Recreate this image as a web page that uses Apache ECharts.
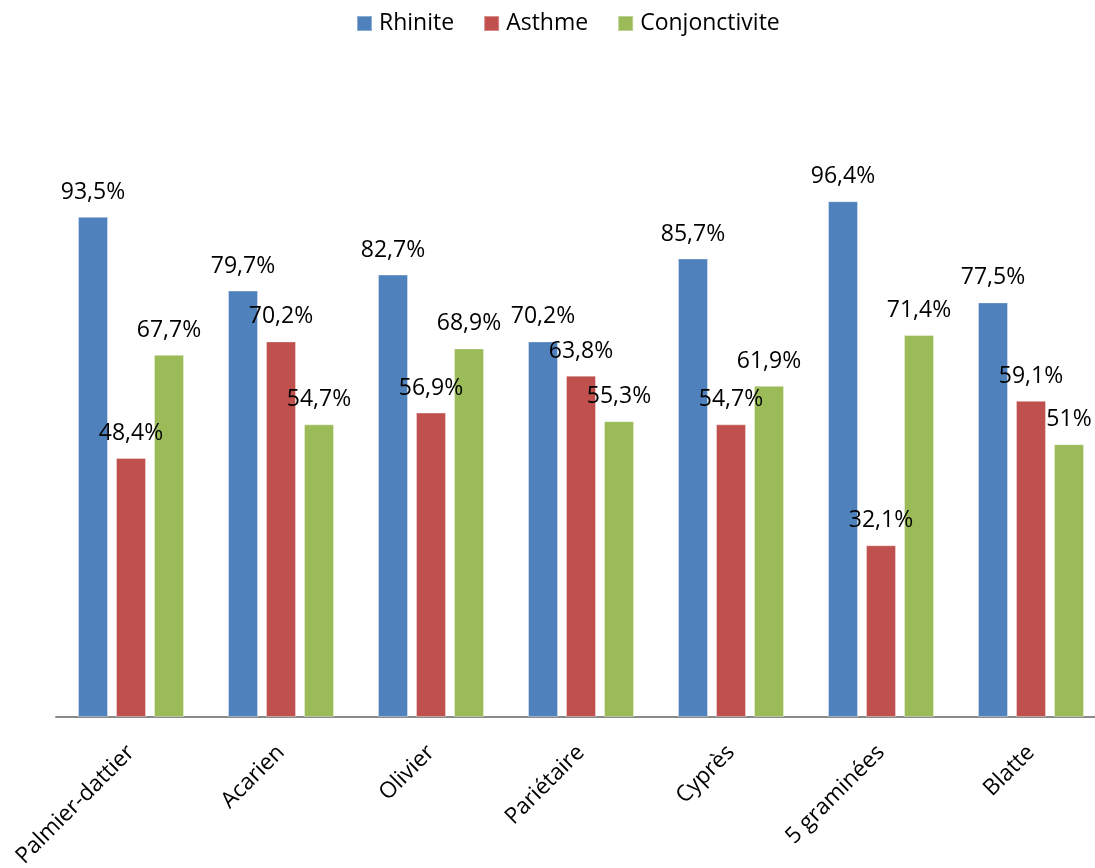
<!DOCTYPE html>
<html>
<head>
<meta charset="utf-8">
<title>Rhinite, Asthme, Conjonctivite par allergène</title>
<script src="https://cdn.jsdelivr.net/npm/echarts@6/dist/echarts.min.js"></script>
<style>
  html, body { margin: 0; padding: 0; background: #ffffff; }
  #chart { width: 1095px; height: 868px; }
</style>
</head>
<body>
<div id="chart"></div>
<script>
// Allergènes (catégories de l'axe horizontal)
const categories = ['Palmier-dattier', 'Acarien', 'Olivier', 'Pariétaire', 'Cyprès', '5 graminées', 'Blatte'];

// Pourcentages par manifestation clinique
const rhinite       = [93.5, 79.7, 82.7, 70.2, 85.7, 96.4, 77.5];
const asthme        = [48.4, 70.2, 56.9, 63.8, 54.7, 32.1, 59.1];
const conjonctivite = [67.7, 54.7, 68.9, 55.3, 61.9, 71.4, 51];

const seriesNames  = ['Rhinite', 'Asthme', 'Conjonctivite'];
const seriesValues = [rhinite, asthme, conjonctivite];
const colors = ['#4F81BD', '#C0504D', '#9BBB59'];

const FONT = '"Open Sans", "Liberation Sans", sans-serif';

// Format français : virgule décimale
function pct(v) {
  return String(v).replace('.', ',') + '%';
}

const chart = echarts.init(document.getElementById('chart'), null, { renderer: 'canvas' });

chart.setOption({
  animation: false,
  backgroundColor: '#ffffff',
  color: colors,
  legend: {
    top: 12,
    left: 356,
    padding: 0,
    itemWidth: 15,
    itemHeight: 15,
    itemGap: 29,
    icon: 'rect',
    textStyle: { fontFamily: FONT, fontSize: 23, color: '#000000', padding: [0, 0, 0, 2] },
    data: seriesNames
  },
  // la zone de tracé déborde légèrement à droite du cadre
  grid: { left: 56, width: 1050, top: 182, bottom: 151, containLabel: false, outerBoundsMode: 'none' },
  xAxis: {
    type: 'category',
    data: categories,
    axisLine: { show: true, lineStyle: { color: '#8A8A8A', width: 2 } },
    axisTick: { show: false },
    axisLabel: {
      rotate: 45,
      interval: 0,
      margin: 32,
      fontFamily: FONT,
      fontSize: 22.5,
      color: '#000000'
    }
  },
  yAxis: {
    type: 'value',
    min: 0,
    max: 100,
    show: false
  },
  series: seriesNames.map((name, i) => ({
    name: name,
    type: 'bar',
    data: seriesValues[i],
    barWidth: 30,
    barGap: '26.67%',
    itemStyle: { color: colors[i], borderColor: 'rgba(255,255,255,0.35)', borderWidth: 1 },
    label: {
      show: true,
      position: 'top',
      distance: 13,
      fontFamily: FONT,
      fontSize: 23,
      color: '#000000',
      formatter: p => pct(p.value)
    }
  }))
});
</script>
</body>
</html>
